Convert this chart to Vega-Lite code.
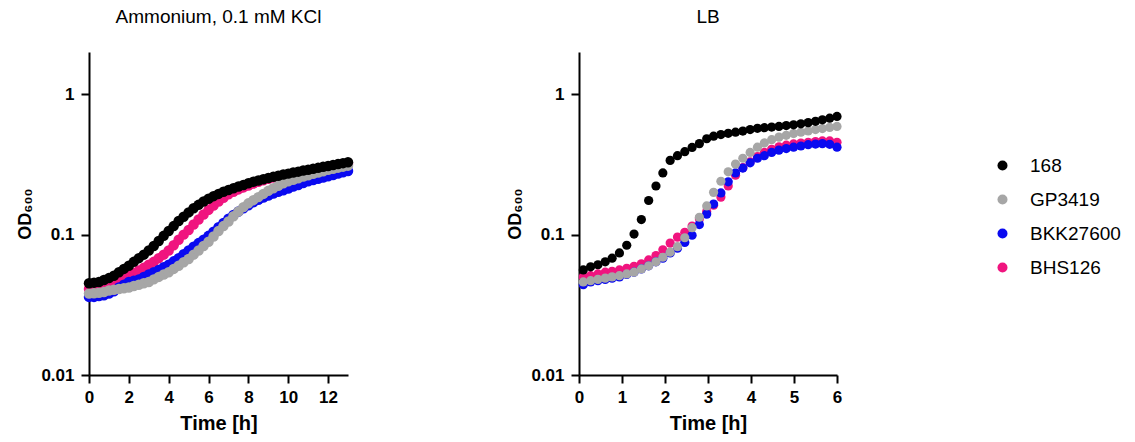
{
"$schema": "https://vega.github.io/schema/vega-lite/v6.json",
"padding": {"left": 16, "top": 8, "right": 5, "bottom": 5},
"config": {
  "font": "Liberation Sans",
  "view": {"stroke": null},
  "concat": {"spacing": 152},
  "axis": {"domainColor": "#000", "domainWidth": 2, "tickColor": "#000", "tickWidth": 2, "tickSize": 8, "grid": false,
    "labelFont": "Liberation Sans", "labelFontWeight": "bold", "labelFontSize": 17, "labelColor": "#000",
    "titleFont": "Liberation Sans", "titleFontWeight": "bold", "titleColor": "#000"},
  "title": {"fontSize": 19, "fontWeight": "normal", "color": "#000", "font": "Liberation Sans", "baseline": "alphabetic", "offset": 25},
  "legend": {"orient": "none", "legendX": 904, "legendY": 104, "labelFontSize": 19, "labelColor": "#000", "labelFont": "Liberation Sans", "symbolSize": 100, "rowPadding": 14, "labelOffset": 18, "symbolType": "circle", "symbolStrokeWidth": 0}
},
"datasets": {
"amm": [
{"s":"BHS126","t":0,"v":0.041},{"s":"BHS126","t":0.25,"v":0.0415},{"s":"BHS126","t":0.5,"v":0.042},{"s":"BHS126","t":0.75,"v":0.043},{"s":"BHS126","t":1,"v":0.044},{"s":"BHS126","t":1.25,"v":0.0455},{"s":"BHS126","t":1.5,"v":0.047},{"s":"BHS126","t":1.75,"v":0.049},{"s":"BHS126","t":2,"v":0.051},{"s":"BHS126","t":2.25,"v":0.053},{"s":"BHS126","t":2.5,"v":0.0555},{"s":"BHS126","t":2.75,"v":0.058},{"s":"BHS126","t":3,"v":0.061},{"s":"BHS126","t":3.25,"v":0.064},{"s":"BHS126","t":3.5,"v":0.068},{"s":"BHS126","t":3.75,"v":0.072},{"s":"BHS126","t":4,"v":0.077},{"s":"BHS126","t":4.25,"v":0.084},{"s":"BHS126","t":4.5,"v":0.092},{"s":"BHS126","t":4.75,"v":0.1},{"s":"BHS126","t":5,"v":0.108},{"s":"BHS126","t":5.25,"v":0.118},{"s":"BHS126","t":5.5,"v":0.128},{"s":"BHS126","t":5.75,"v":0.139},{"s":"BHS126","t":6,"v":0.15},{"s":"BHS126","t":6.25,"v":0.161},{"s":"BHS126","t":6.5,"v":0.172},{"s":"BHS126","t":6.75,"v":0.183},{"s":"BHS126","t":7,"v":0.194},{"s":"BHS126","t":7.25,"v":0.202},{"s":"BHS126","t":7.5,"v":0.21},{"s":"BHS126","t":7.75,"v":0.217},{"s":"BHS126","t":8,"v":0.224},{"s":"BHS126","t":8.25,"v":0.231},{"s":"BHS126","t":8.5,"v":0.238},{"s":"BHS126","t":8.75,"v":0.244},{"s":"BHS126","t":9,"v":0.25},{"s":"BHS126","t":9.25,"v":0.255},{"s":"BHS126","t":9.5,"v":0.26},{"s":"BHS126","t":9.75,"v":0.264},{"s":"BHS126","t":10,"v":0.268},{"s":"BHS126","t":10.25,"v":0.272},{"s":"BHS126","t":10.5,"v":0.277},{"s":"BHS126","t":10.75,"v":0.281},{"s":"BHS126","t":11,"v":0.285},{"s":"BHS126","t":11.25,"v":0.289},{"s":"BHS126","t":11.5,"v":0.294},{"s":"BHS126","t":11.75,"v":0.298},{"s":"BHS126","t":12,"v":0.302},{"s":"BHS126","t":12.25,"v":0.306},{"s":"BHS126","t":12.5,"v":0.311},{"s":"BHS126","t":12.75,"v":0.315},{"s":"BHS126","t":13,"v":0.32},
{"s":"BKK27600","t":0,"v":0.036},{"s":"BKK27600","t":0.25,"v":0.036},{"s":"BKK27600","t":0.5,"v":0.0365},{"s":"BKK27600","t":0.75,"v":0.037},{"s":"BKK27600","t":1,"v":0.038},{"s":"BKK27600","t":1.25,"v":0.0395},{"s":"BKK27600","t":1.5,"v":0.042},{"s":"BKK27600","t":1.75,"v":0.044},{"s":"BKK27600","t":2,"v":0.046},{"s":"BKK27600","t":2.25,"v":0.047},{"s":"BKK27600","t":2.5,"v":0.048},{"s":"BKK27600","t":2.75,"v":0.05},{"s":"BKK27600","t":3,"v":0.052},{"s":"BKK27600","t":3.25,"v":0.054},{"s":"BKK27600","t":3.5,"v":0.056},{"s":"BKK27600","t":3.75,"v":0.0585},{"s":"BKK27600","t":4,"v":0.061},{"s":"BKK27600","t":4.25,"v":0.0645},{"s":"BKK27600","t":4.5,"v":0.068},{"s":"BKK27600","t":4.75,"v":0.0725},{"s":"BKK27600","t":5,"v":0.077},{"s":"BKK27600","t":5.25,"v":0.082},{"s":"BKK27600","t":5.5,"v":0.087},{"s":"BKK27600","t":5.75,"v":0.092},{"s":"BKK27600","t":6,"v":0.098},{"s":"BKK27600","t":6.25,"v":0.105},{"s":"BKK27600","t":6.5,"v":0.113},{"s":"BKK27600","t":6.75,"v":0.121},{"s":"BKK27600","t":7,"v":0.13},{"s":"BKK27600","t":7.25,"v":0.138},{"s":"BKK27600","t":7.5,"v":0.146},{"s":"BKK27600","t":7.75,"v":0.154},{"s":"BKK27600","t":8,"v":0.162},{"s":"BKK27600","t":8.25,"v":0.17},{"s":"BKK27600","t":8.5,"v":0.177},{"s":"BKK27600","t":8.75,"v":0.184},{"s":"BKK27600","t":9,"v":0.19},{"s":"BKK27600","t":9.25,"v":0.196},{"s":"BKK27600","t":9.5,"v":0.202},{"s":"BKK27600","t":9.75,"v":0.207},{"s":"BKK27600","t":10,"v":0.213},{"s":"BKK27600","t":10.25,"v":0.22},{"s":"BKK27600","t":10.5,"v":0.226},{"s":"BKK27600","t":10.75,"v":0.233},{"s":"BKK27600","t":11,"v":0.24},{"s":"BKK27600","t":11.25,"v":0.245},{"s":"BKK27600","t":11.5,"v":0.25},{"s":"BKK27600","t":11.75,"v":0.255},{"s":"BKK27600","t":12,"v":0.26},{"s":"BKK27600","t":12.25,"v":0.266},{"s":"BKK27600","t":12.5,"v":0.272},{"s":"BKK27600","t":12.75,"v":0.278},{"s":"BKK27600","t":13,"v":0.284},
{"s":"GP3419","t":0,"v":0.038},{"s":"GP3419","t":0.25,"v":0.0382},{"s":"GP3419","t":0.5,"v":0.0385},{"s":"GP3419","t":0.75,"v":0.039},{"s":"GP3419","t":1,"v":0.04},{"s":"GP3419","t":1.25,"v":0.0405},{"s":"GP3419","t":1.5,"v":0.041},{"s":"GP3419","t":1.75,"v":0.0415},{"s":"GP3419","t":2,"v":0.042},{"s":"GP3419","t":2.25,"v":0.043},{"s":"GP3419","t":2.5,"v":0.044},{"s":"GP3419","t":2.75,"v":0.045},{"s":"GP3419","t":3,"v":0.046},{"s":"GP3419","t":3.25,"v":0.048},{"s":"GP3419","t":3.5,"v":0.05},{"s":"GP3419","t":3.75,"v":0.052},{"s":"GP3419","t":4,"v":0.054},{"s":"GP3419","t":4.25,"v":0.057},{"s":"GP3419","t":4.5,"v":0.06},{"s":"GP3419","t":4.75,"v":0.0635},{"s":"GP3419","t":5,"v":0.067},{"s":"GP3419","t":5.25,"v":0.072},{"s":"GP3419","t":5.5,"v":0.077},{"s":"GP3419","t":5.75,"v":0.083},{"s":"GP3419","t":6,"v":0.089},{"s":"GP3419","t":6.25,"v":0.097},{"s":"GP3419","t":6.5,"v":0.106},{"s":"GP3419","t":6.75,"v":0.115},{"s":"GP3419","t":7,"v":0.124},{"s":"GP3419","t":7.25,"v":0.135},{"s":"GP3419","t":7.5,"v":0.146},{"s":"GP3419","t":7.75,"v":0.157},{"s":"GP3419","t":8,"v":0.167},{"s":"GP3419","t":8.25,"v":0.176},{"s":"GP3419","t":8.5,"v":0.185},{"s":"GP3419","t":8.75,"v":0.195},{"s":"GP3419","t":9,"v":0.205},{"s":"GP3419","t":9.25,"v":0.214},{"s":"GP3419","t":9.5,"v":0.223},{"s":"GP3419","t":9.75,"v":0.232},{"s":"GP3419","t":10,"v":0.24},{"s":"GP3419","t":10.25,"v":0.246},{"s":"GP3419","t":10.5,"v":0.252},{"s":"GP3419","t":10.75,"v":0.259},{"s":"GP3419","t":11,"v":0.265},{"s":"GP3419","t":11.25,"v":0.271},{"s":"GP3419","t":11.5,"v":0.277},{"s":"GP3419","t":11.75,"v":0.283},{"s":"GP3419","t":12,"v":0.29},{"s":"GP3419","t":12.25,"v":0.295},{"s":"GP3419","t":12.5,"v":0.3},{"s":"GP3419","t":12.75,"v":0.305},{"s":"GP3419","t":13,"v":0.31},
{"s":"168","t":0,"v":0.045},{"s":"168","t":0.25,"v":0.0455},{"s":"168","t":0.5,"v":0.046},{"s":"168","t":0.75,"v":0.0475},{"s":"168","t":1,"v":0.049},{"s":"168","t":1.25,"v":0.051},{"s":"168","t":1.5,"v":0.054},{"s":"168","t":1.75,"v":0.057},{"s":"168","t":2,"v":0.06},{"s":"168","t":2.25,"v":0.064},{"s":"168","t":2.5,"v":0.068},{"s":"168","t":2.75,"v":0.072},{"s":"168","t":3,"v":0.077},{"s":"168","t":3.25,"v":0.083},{"s":"168","t":3.5,"v":0.09},{"s":"168","t":3.75,"v":0.098},{"s":"168","t":4,"v":0.106},{"s":"168","t":4.25,"v":0.115},{"s":"168","t":4.5,"v":0.125},{"s":"168","t":4.75,"v":0.134},{"s":"168","t":5,"v":0.144},{"s":"168","t":5.25,"v":0.154},{"s":"168","t":5.5,"v":0.163},{"s":"168","t":5.75,"v":0.172},{"s":"168","t":6,"v":0.18},{"s":"168","t":6.25,"v":0.188},{"s":"168","t":6.5,"v":0.195},{"s":"168","t":6.75,"v":0.202},{"s":"168","t":7,"v":0.208},{"s":"168","t":7.25,"v":0.214},{"s":"168","t":7.5,"v":0.22},{"s":"168","t":7.75,"v":0.226},{"s":"168","t":8,"v":0.232},{"s":"168","t":8.25,"v":0.238},{"s":"168","t":8.5,"v":0.243},{"s":"168","t":8.75,"v":0.248},{"s":"168","t":9,"v":0.253},{"s":"168","t":9.25,"v":0.258},{"s":"168","t":9.5,"v":0.263},{"s":"168","t":9.75,"v":0.268},{"s":"168","t":10,"v":0.272},{"s":"168","t":10.25,"v":0.277},{"s":"168","t":10.5,"v":0.281},{"s":"168","t":10.75,"v":0.286},{"s":"168","t":11,"v":0.29},{"s":"168","t":11.25,"v":0.295},{"s":"168","t":11.5,"v":0.299},{"s":"168","t":11.75,"v":0.304},{"s":"168","t":12,"v":0.308},{"s":"168","t":12.25,"v":0.313},{"s":"168","t":12.5,"v":0.318},{"s":"168","t":12.75,"v":0.323},{"s":"168","t":13,"v":0.328}
],
"lb": [
{"s":"BHS126","t":0.1,"v":0.05},{"s":"BHS126","t":0.27,"v":0.051},{"s":"BHS126","t":0.44,"v":0.0525},{"s":"BHS126","t":0.61,"v":0.054},{"s":"BHS126","t":0.77,"v":0.0548},{"s":"BHS126","t":0.94,"v":0.056},{"s":"BHS126","t":1.11,"v":0.0575},{"s":"BHS126","t":1.28,"v":0.0595},{"s":"BHS126","t":1.45,"v":0.062},{"s":"BHS126","t":1.62,"v":0.066},{"s":"BHS126","t":1.79,"v":0.071},{"s":"BHS126","t":1.95,"v":0.078},{"s":"BHS126","t":2.12,"v":0.087},{"s":"BHS126","t":2.29,"v":0.096},{"s":"BHS126","t":2.46,"v":0.104},{"s":"BHS126","t":2.63,"v":0.115},{"s":"BHS126","t":2.8,"v":0.13},{"s":"BHS126","t":2.97,"v":0.146},{"s":"BHS126","t":3.13,"v":0.162},{"s":"BHS126","t":3.3,"v":0.185},{"s":"BHS126","t":3.47,"v":0.222},{"s":"BHS126","t":3.64,"v":0.265},{"s":"BHS126","t":3.81,"v":0.3},{"s":"BHS126","t":3.98,"v":0.33},{"s":"BHS126","t":4.15,"v":0.36},{"s":"BHS126","t":4.31,"v":0.385},{"s":"BHS126","t":4.48,"v":0.405},{"s":"BHS126","t":4.65,"v":0.422},{"s":"BHS126","t":4.82,"v":0.434},{"s":"BHS126","t":4.99,"v":0.443},{"s":"BHS126","t":5.16,"v":0.449},{"s":"BHS126","t":5.33,"v":0.455},{"s":"BHS126","t":5.5,"v":0.46},{"s":"BHS126","t":5.66,"v":0.465},{"s":"BHS126","t":5.83,"v":0.465},{"s":"BHS126","t":6,"v":0.455},
{"s":"BKK27600","t":0.1,"v":0.044},{"s":"BKK27600","t":0.27,"v":0.046},{"s":"BKK27600","t":0.44,"v":0.047},{"s":"BKK27600","t":0.61,"v":0.048},{"s":"BKK27600","t":0.77,"v":0.049},{"s":"BKK27600","t":0.94,"v":0.05},{"s":"BKK27600","t":1.11,"v":0.052},{"s":"BKK27600","t":1.28,"v":0.054},{"s":"BKK27600","t":1.45,"v":0.057},{"s":"BKK27600","t":1.62,"v":0.06},{"s":"BKK27600","t":1.79,"v":0.064},{"s":"BKK27600","t":1.95,"v":0.068},{"s":"BKK27600","t":2.12,"v":0.074},{"s":"BKK27600","t":2.29,"v":0.08},{"s":"BKK27600","t":2.46,"v":0.088},{"s":"BKK27600","t":2.63,"v":0.099},{"s":"BKK27600","t":2.8,"v":0.118},{"s":"BKK27600","t":2.97,"v":0.14},{"s":"BKK27600","t":3.13,"v":0.165},{"s":"BKK27600","t":3.3,"v":0.198},{"s":"BKK27600","t":3.47,"v":0.238},{"s":"BKK27600","t":3.64,"v":0.275},{"s":"BKK27600","t":3.81,"v":0.298},{"s":"BKK27600","t":3.98,"v":0.325},{"s":"BKK27600","t":4.15,"v":0.35},{"s":"BKK27600","t":4.31,"v":0.365},{"s":"BKK27600","t":4.48,"v":0.385},{"s":"BKK27600","t":4.65,"v":0.4},{"s":"BKK27600","t":4.82,"v":0.41},{"s":"BKK27600","t":4.99,"v":0.42},{"s":"BKK27600","t":5.16,"v":0.428},{"s":"BKK27600","t":5.33,"v":0.437},{"s":"BKK27600","t":5.5,"v":0.442},{"s":"BKK27600","t":5.66,"v":0.445},{"s":"BKK27600","t":5.83,"v":0.44},{"s":"BKK27600","t":6,"v":0.42},
{"s":"GP3419","t":0.1,"v":0.046},{"s":"GP3419","t":0.27,"v":0.047},{"s":"GP3419","t":0.44,"v":0.048},{"s":"GP3419","t":0.61,"v":0.049},{"s":"GP3419","t":0.77,"v":0.05},{"s":"GP3419","t":0.94,"v":0.051},{"s":"GP3419","t":1.11,"v":0.0525},{"s":"GP3419","t":1.28,"v":0.054},{"s":"GP3419","t":1.45,"v":0.057},{"s":"GP3419","t":1.62,"v":0.06},{"s":"GP3419","t":1.79,"v":0.064},{"s":"GP3419","t":1.95,"v":0.069},{"s":"GP3419","t":2.12,"v":0.075},{"s":"GP3419","t":2.29,"v":0.082},{"s":"GP3419","t":2.46,"v":0.095},{"s":"GP3419","t":2.63,"v":0.112},{"s":"GP3419","t":2.8,"v":0.133},{"s":"GP3419","t":2.97,"v":0.16},{"s":"GP3419","t":3.13,"v":0.2},{"s":"GP3419","t":3.3,"v":0.24},{"s":"GP3419","t":3.47,"v":0.28},{"s":"GP3419","t":3.64,"v":0.318},{"s":"GP3419","t":3.81,"v":0.35},{"s":"GP3419","t":3.98,"v":0.385},{"s":"GP3419","t":4.15,"v":0.42},{"s":"GP3419","t":4.31,"v":0.45},{"s":"GP3419","t":4.48,"v":0.475},{"s":"GP3419","t":4.65,"v":0.495},{"s":"GP3419","t":4.82,"v":0.51},{"s":"GP3419","t":4.99,"v":0.525},{"s":"GP3419","t":5.16,"v":0.537},{"s":"GP3419","t":5.33,"v":0.548},{"s":"GP3419","t":5.5,"v":0.56},{"s":"GP3419","t":5.66,"v":0.57},{"s":"GP3419","t":5.83,"v":0.58},{"s":"GP3419","t":6,"v":0.59},
{"s":"168","t":0.1,"v":0.056},{"s":"168","t":0.27,"v":0.059},{"s":"168","t":0.44,"v":0.061},{"s":"168","t":0.61,"v":0.064},{"s":"168","t":0.77,"v":0.068},{"s":"168","t":0.94,"v":0.074},{"s":"168","t":1.11,"v":0.084},{"s":"168","t":1.28,"v":0.101},{"s":"168","t":1.45,"v":0.128},{"s":"168","t":1.62,"v":0.175},{"s":"168","t":1.79,"v":0.222},{"s":"168","t":1.95,"v":0.275},{"s":"168","t":2.12,"v":0.338},{"s":"168","t":2.29,"v":0.365},{"s":"168","t":2.46,"v":0.39},{"s":"168","t":2.63,"v":0.418},{"s":"168","t":2.8,"v":0.445},{"s":"168","t":2.97,"v":0.482},{"s":"168","t":3.13,"v":0.503},{"s":"168","t":3.3,"v":0.516},{"s":"168","t":3.47,"v":0.527},{"s":"168","t":3.64,"v":0.537},{"s":"168","t":3.81,"v":0.547},{"s":"168","t":3.98,"v":0.56},{"s":"168","t":4.15,"v":0.572},{"s":"168","t":4.31,"v":0.578},{"s":"168","t":4.48,"v":0.584},{"s":"168","t":4.65,"v":0.59},{"s":"168","t":4.82,"v":0.598},{"s":"168","t":4.99,"v":0.606},{"s":"168","t":5.16,"v":0.616},{"s":"168","t":5.33,"v":0.628},{"s":"168","t":5.5,"v":0.642},{"s":"168","t":5.66,"v":0.657},{"s":"168","t":5.83,"v":0.675},{"s":"168","t":6,"v":0.695}
]
},
"hconcat": [
  {
    "title": {"text": "Ammonium, 0.1 mM KCl"},
    "width": 259, "height": 323,
    "data": {"name": "amm"},
    "mark": {"type": "circle", "size": 110, "opacity": 1},
    "encoding": {
      "x": {"field": "t", "type": "quantitative", "scale": {"domain": [0, 13], "nice": false, "zero": false},
        "axis": {"values": [0, 2, 4, 6, 8, 10, 12], "title": "Time [h]", "titleFontSize": 20, "labelPadding": 6, "titlePadding": 8, "labelFlush": false}},
      "y": {"field": "v", "type": "quantitative", "scale": {"type": "log", "domain": [0.01, 2], "nice": false},
        "axis": {"values": [0.01, 0.1, 1], "format": "~g", "title": "OD₆₀₀", "titleFontSize": 18, "labelPadding": 7, "titlePadding": 6}},
      "color": {"field": "s", "type": "nominal", "scale": {"domain": ["168", "GP3419", "BKK27600", "BHS126"], "range": ["#000000", "#A6A6A6", "#0A0AF0", "#F0147F"]}, "legend": {"title": null}}
    }
  },
  {
    "title": {"text": "LB"},
    "width": 258, "height": 323,
    "data": {"name": "lb"},
    "mark": {"type": "circle", "size": 85, "opacity": 1},
    "encoding": {
      "x": {"field": "t", "type": "quantitative", "scale": {"domain": [0, 6], "nice": false, "zero": false},
        "axis": {"values": [0, 1, 2, 3, 4, 5, 6], "title": "Time [h]", "titleFontSize": 20, "labelPadding": 6, "titlePadding": 8, "labelFlush": false}},
      "y": {"field": "v", "type": "quantitative", "scale": {"type": "log", "domain": [0.01, 2], "nice": false},
        "axis": {"values": [0.01, 0.1, 1], "format": "~g", "title": "OD₆₀₀", "titleFontSize": 18, "labelPadding": 7, "titlePadding": 6}},
      "color": {"field": "s", "type": "nominal", "scale": {"domain": ["168", "GP3419", "BKK27600", "BHS126"], "range": ["#000000", "#A6A6A6", "#0A0AF0", "#F0147F"]}, "legend": {"title": null}}
    }
  }
],
"resolve": {"scale": {"color": "shared", "x": "independent", "y": "independent"}}
}
